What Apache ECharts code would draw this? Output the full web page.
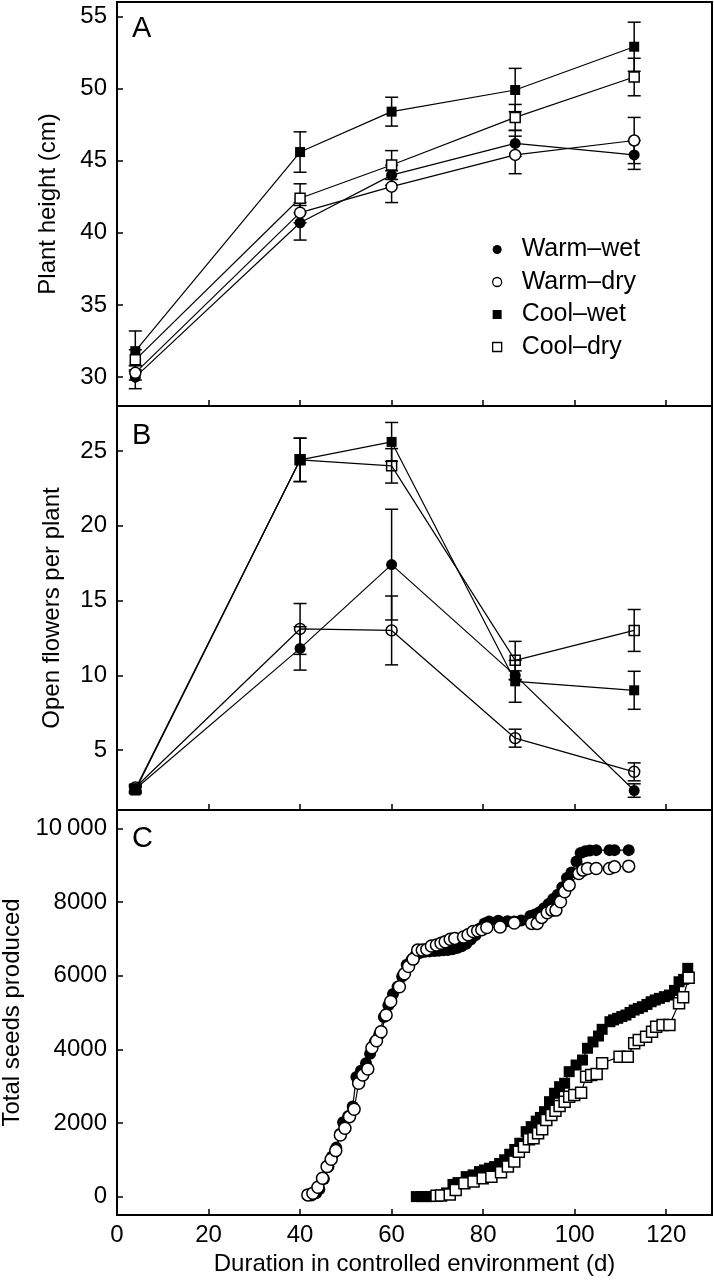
<!DOCTYPE html>
<html><head><meta charset="utf-8">
<script src="https://cdn.jsdelivr.net/npm/echarts@6/dist/echarts.min.js"></script>
<style>html,body{margin:0;padding:0;background:#fff}#c{width:714px;height:1280px}</style>
</head><body><div id="c"></div>
<script>
// ---------- data ----------
const seriesNames = ['Warm\u2013wet', 'Warm\u2013dry', 'Cool\u2013wet', 'Cool\u2013dry'];
const daysAB = [4, 40, 60, 87, 113];

// Panel A: plant height (cm)
const heightWarmWet = [30.0, 40.7, 44.0, 46.2, 45.4];
const heightWarmDry = [30.3, 41.4, 43.2, 45.4, 46.4];
const heightCoolWet = [31.8, 45.6, 48.4, 49.9, 52.9];
const heightCoolDry = [31.2, 42.4, 44.7, 48.0, 50.8];
const heightErrWarmWet = [0.8, 1.2, 0.7, 0.9, 1.0];
const heightErrWarmDry = [0.5, 0.7, 1.1, 1.3, 1.6];
const heightErrCoolWet = [1.4, 1.4, 1.0, 1.5, 1.7];
const heightErrCoolDry = [0.7, 1.0, 1.0, 0.9, 1.3];

// Panel B: open flowers per plant
const flowersWarmWet = [2.4, 11.8, 17.4, 10.0, 2.3];
const flowersWarmDry = [2.5, 13.1, 13.0, 5.8, 3.55];
const flowersCoolWet = [2.3, 24.4, 25.6, 9.6, 9.0];
const flowersCoolDry = [2.4, 24.4, 24.0, 11.0, 13.0];
const flowersErrWarmWet = [0.2, 1.45, 3.7, 0.3, 0.45];
const flowersErrWarmDry = [0.2, 1.7, 2.3, 0.6, 0.6];
const flowersErrCoolWet = [0.2, 1.45, 1.3, 1.4, 1.27];
const flowersErrCoolDry = [0.2, 1.45, 1.15, 1.27, 1.4];

// Panel C: total seeds produced
const seedDaysWarmWet = [42.5,43.5,44.2,45.2,46.2,47.0,47.9,48.7,49.4,50.5,51.5,52.3,53.3,54.4,55.3,56.3,57.3,58.3,59.3,60.3,61.3,62.3,63.3,64.3,65.3,66.3,67.3,68.3,69.3,70.3,71.3,72.3,73.3,74.3,75.3,76.3,77.3,78.3,79.3,80.3,81.3,83.3,85.3,86.8,88.3,90.3,91.3,92.3,93.3,94.3,95.3,96.3,97.3,98.3,99.3,100.4,101.3,102.3,103.3,104.7,107.6,108.7,111.8];
const seedsWarmWet = [30,90,200,480,820,1090,1330,1700,2020,2180,2450,3250,3420,3620,3880,4200,4400,4880,5200,5500,5700,5980,6300,6420,6560,6620,6650,6660,6670,6680,6690,6700,6720,6750,6800,6870,6980,7100,7280,7420,7470,7490,7480,7470,7500,7620,7660,7720,7830,7950,8080,8200,8400,8650,8800,9100,9330,9380,9400,9410,9410,9410,9410];
const seedDaysWarmDry = [41.7,42.8,43.9,44.9,45.9,46.8,47.8,48.8,49.8,50.8,51.8,52.8,53.7,54.8,55.7,56.7,57.7,58.8,59.8,61.7,62.8,63.7,64.7,65.7,66.7,67.7,68.7,69.8,70.8,71.7,72.8,73.8,75.7,76.7,77.8,78.8,79.7,80.8,83.7,86.8,90.6,91.8,92.8,94.0,95.0,95.9,96.9,97.8,98.8,100.9,101.8,102.8,104.7,107.6,108.7,111.8];
const seedsWarmDry = [46,92,255,500,814,1015,1249,1675,1856,2171,2372,3078,3300,3466,4044,4234,4478,4931,5300,5699,6050,6250,6450,6695,6695,6714,6804,6831,6880,6921,6990,7013,7050,7110,7200,7219,7250,7311,7320,7430,7420,7420,7583,7710,7781,7781,8006,8278,8460,8777,8867,8913,8913,8913,8956,8975];
const seedDaysCoolWet = [65.4,66.5,67.6,68.7,69.8,72.0,73.4,74.5,76.3,77.8,79.2,80.3,81.4,82.5,83.6,84.7,85.8,86.9,88.0,89.4,90.5,91.6,92.5,93.4,94.5,95.6,96.7,97.8,98.8,100.3,101.7,102.8,104.0,105.2,106.0,107.7,108.5,109.4,110.3,111.2,112.1,113.0,113.9,114.8,115.8,116.7,117.6,118.5,119.6,120.7,121.8,122.8,123.8,124.7];
const seedsCoolWet = [0,0,0,0,10,100,330,380,543,589,679,724,770,814,900,1000,1150,1280,1450,1764,1900,2050,2150,2307,2578,2806,2985,3078,3393,3574,3710,4028,4200,4361,4543,4750,4800,4842,4890,4931,5000,5067,5110,5157,5220,5292,5340,5384,5430,5474,5600,5835,5900,6199];
const seedDaysCoolDry = [69.8,70.8,72.7,74.0,75.9,77.9,79.9,81.8,83.9,85.4,86.8,87.8,88.9,90.0,91.0,92.0,92.9,93.8,94.9,95.8,96.7,97.8,98.8,99.9,101.4,102.5,103.6,104.8,106.0,109.8,111.6,113.0,114.0,115.6,116.9,117.8,119.2,120.7,122.8,123.7,124.9];
const seedsCoolDry = [20,30,60,180,363,408,500,540,662,814,950,1221,1357,1557,1585,1721,1829,2082,2217,2334,2461,2578,2714,2760,2823,3257,3303,3330,3620,3800,3800,4163,4253,4343,4478,4614,4660,4660,5249,5411,5944];

// tick labels
const xTicks = [0, 20, 40, 60, 80, 100, 120];
const yTicksA = [30, 35, 40, 45, 50, 55];
const yTicksB = [5, 10, 15, 20, 25];
const yTicksC = [0, 2000, 4000, 6000, 8000, 10000];

// ---------- chart ----------
const FONT = '"Liberation Sans", Arial, Helvetica, sans-serif';
const chart = echarts.init(document.getElementById('c'), null, {renderer: 'canvas'});

const grids = [
  {left: 117, top: 2, width: 595, height: 404},
  {left: 117, top: 406, width: 595, height: 404},
  {left: 117, top: 810, width: 595, height: 405}
].map(g => Object.assign(g, {show: true, borderColor: '#000', borderWidth: 2, containLabel: false, outerBoundsMode: 'none'}));

function xAx(i, showLabels) {
  return {
    type: 'value', gridIndex: i, min: 0, max: 130,
    axisLine: {show: true, onZero: false, lineStyle: {color: '#000', width: 2}},
    axisTick: {show: true, inside: true, length: 6, customValues: xTicks.slice(1), lineStyle: {color: '#000', width: 1.5}},
    axisLabel: {show: showLabels, customValues: xTicks, color: '#000', fontSize: 24, fontFamily: FONT, margin: 8},
    splitLine: {show: false},
    name: showLabels ? 'Duration in controlled environment (d)' : '',
    nameLocation: 'middle', nameGap: 37,
    nameTextStyle: {color: '#000', fontSize: 24, fontFamily: FONT}
  };
}
function yAx(i, min, max, ticks, name, gap, fmt) {
  return {
    type: 'value', gridIndex: i, min: min, max: max,
    axisLine: {show: true, onZero: false, lineStyle: {color: '#000', width: 2}},
    axisTick: {show: true, inside: true, length: 6, customValues: ticks, lineStyle: {color: '#000', width: 1.5}},
    axisLabel: {show: true, customValues: ticks, color: '#000', fontSize: 24, fontFamily: FONT, margin: 10, formatter: fmt},
    splitLine: {show: false},
    name: name, nameLocation: 'middle', nameGap: gap,
    nameTextStyle: {color: '#000', fontSize: 24, fontFamily: FONT}
  };
}

const symbolOf = ['circle', 'circle', 'rect', 'rect'];
const filled = [true, false, true, false];

function lineSeries(panel, idx, xs, ys, symSize, openFill) {
  const data = xs.map((x, i) => [x, ys[i]]);
  const isFilled = filled[idx];
  return {
    type: 'line', name: seriesNames[idx], xAxisIndex: panel, yAxisIndex: panel,
    data: data, symbol: symbolOf[idx],
    symbolSize: symbolOf[idx] === 'rect' ? symSize - 1 : symSize,
    showAllSymbol: true, animation: false,
    lineStyle: {color: '#000', width: 1.2},
    itemStyle: isFilled ? {color: '#000', borderColor: '#000', borderWidth: 0}
                        : {color: openFill, borderColor: '#000', borderWidth: 1.5},
    z: 3
  };
}

function errRender(params, api) {
  const x = api.value(0), y = api.value(1), e = api.value(2);
  const t = api.coord([x, y + e]), b = api.coord([x, y - e]);
  const w = 6.5;
  const st = {stroke: '#000', lineWidth: 1.5};
  return {type: 'group', children: [
    {type: 'line', shape: {x1: t[0], y1: t[1], x2: b[0], y2: b[1]}, style: st},
    {type: 'line', shape: {x1: t[0] - w, y1: t[1], x2: t[0] + w, y2: t[1]}, style: st},
    {type: 'line', shape: {x1: b[0] - w, y1: b[1], x2: b[0] + w, y2: b[1]}, style: st}
  ]};
}
function errSeries(panel, lists, errs, z) {
  const data = [];
  lists.forEach((ys, k) => ys.forEach((y, i) => data.push([daysAB[i], y, errs[k][i]])));
  return {type: 'custom', xAxisIndex: panel, yAxisIndex: panel, renderItem: errRender,
          data: data, z: z, silent: true, animation: false, clip: false};
}

const series = [];
// Panel A
const aLists = [heightWarmWet, heightWarmDry, heightCoolWet, heightCoolDry];
const aErrs = [heightErrWarmWet, heightErrWarmDry, heightErrCoolWet, heightErrCoolDry];
series.push(errSeries(0, aLists, aErrs, 2));
aLists.forEach((ys, k) => series.push(lineSeries(0, k, daysAB, ys, 11, '#fff')));
// Panel B
const bLists = [flowersWarmWet, flowersWarmDry, flowersCoolWet, flowersCoolDry];
const bErrs = [flowersErrWarmWet, flowersErrWarmDry, flowersErrCoolWet, flowersErrCoolDry];
bLists.forEach((ys, k) => series.push(lineSeries(1, k, daysAB, ys, 11, 'rgba(255,255,255,0)')));
series.push(errSeries(1, bLists, bErrs, 4));
// Panel C
series.push(lineSeries(2, 0, seedDaysWarmWet, seedsWarmWet, 12, '#fff'));
series.push(lineSeries(2, 1, seedDaysWarmDry, seedsWarmDry, 12, '#fff'));
series.push(lineSeries(2, 2, seedDaysCoolWet, seedsCoolWet, 12, '#fff'));
series.push(lineSeries(2, 3, seedDaysCoolDry, seedsCoolDry, 12, '#fff'));

const letterStyle = {color: '#000', fontSize: 29, fontWeight: 'normal', fontFamily: FONT};

chart.setOption({
  backgroundColor: '#fff',
  animation: false,
  title: [
    {text: 'A', left: 132, top: 14, padding: 0, textStyle: letterStyle},
    {text: 'B', left: 132, top: 421, padding: 0, textStyle: letterStyle},
    {text: 'C', left: 132, top: 824, padding: 0, textStyle: letterStyle}
  ],
  legend: {
    orient: 'vertical', left: 492, top: 237, padding: 0, itemWidth: 9, itemHeight: 9, itemGap: 7.5,
    selectedMode: false,
    textStyle: {color: '#000', fontSize: 25, fontFamily: FONT, lineHeight: 25, padding: [0, 0, 0, 15]},
    data: [
      {name: seriesNames[0], icon: 'circle', itemStyle: {color: '#000', borderWidth: 0}},
      {name: seriesNames[1], icon: 'circle', itemStyle: {color: '#fff', borderColor: '#000', borderWidth: 1.3}},
      {name: seriesNames[2], icon: 'rect', itemStyle: {color: '#000', borderWidth: 0}},
      {name: seriesNames[3], icon: 'rect', itemStyle: {color: '#fff', borderColor: '#000', borderWidth: 1.3}}
    ]
  },
  grid: grids,
  xAxis: [xAx(0, false), xAx(1, false), xAx(2, true)],
  yAxis: [
    yAx(0, 28, 56, yTicksA, 'Plant height (cm)', 57),
    yAx(1, 1, 28, yTicksB, 'Open flowers per plant', 53),
    yAx(2, -500, 10500, yTicksC, 'Total seeds produced', 90, v => v === 10000 ? '10\u2009000' : String(v))
  ],
  series: series
});
</script></body></html>
